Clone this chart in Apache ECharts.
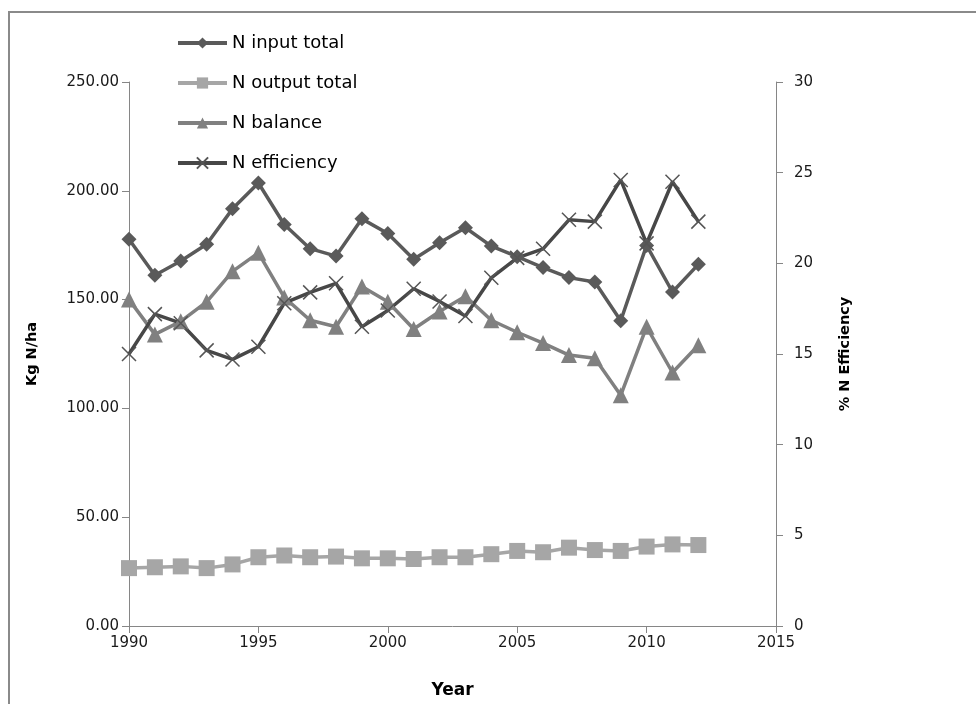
<!DOCTYPE html>
<html>
<head>
<meta charset="utf-8">
<script src="https://cdn.jsdelivr.net/npm/echarts@6/dist/echarts.min.js"></script>
<style>
html,body{margin:0;padding:0;background:#fff;}
#main{width:976px;height:704px;}
</style>
</head>
<body>
<div id="main"></div>
<script>
var years = [1990,1991,1992,1993,1994,1995,1996,1997,1998,1999,2000,2001,2002,2003,2004,2005,2006,2007,2008,2009,2010,2011,2012];
var nInputTotal = [177.7,161.2,167.7,175.4,191.7,203.6,184.5,173.4,170.0,187.1,180.4,168.5,176.1,183.0,174.6,169.7,164.7,160.1,158.1,140.3,174.9,153.5,166.2];
var nOutputTotal = [26.6,27.0,27.4,26.6,28.3,31.6,32.4,31.6,31.9,31.1,31.1,30.8,31.6,31.6,33.0,34.5,33.9,36.0,34.9,34.5,36.5,37.5,37.2];
var nBalance = [150.0,134.0,140.0,149.0,163.0,171.5,151.0,140.5,137.5,156.0,149.0,136.5,144.5,151.5,140.5,135.0,130.0,124.5,123.0,106.0,137.5,116.5,129.0];
var nEfficiency = [15.0,17.2,16.7,15.2,14.7,15.4,17.8,18.4,18.9,16.5,17.4,18.6,17.9,17.1,19.2,20.3,20.8,22.4,22.3,24.6,21.1,24.5,22.3];
var seriesNames = ['N input total','N output total','N balance','N efficiency'];
var leftTicks = {min:0, max:250, interval:50};
var rightTicks = {min:0, max:30, interval:5};
var xTicks = {min:1990, max:2015, interval:5};

function pairs(vals){ return years.map(function(y,i){ return [y, vals[i]]; }); }

var FONT = 'DejaVu Sans';
var xMark = 'path://M0,0L10,10M10,0L0,10';

var chart = echarts.init(document.getElementById('main'), null, {renderer:'canvas'});
chart.setOption({
  backgroundColor:'#ffffff',
  animation:false,
  graphic:[{
    type:'rect', shape:{x:9, y:12, width:1000, height:1000},
    style:{fill:'none', stroke:'#8a8a8a', lineWidth:2}, silent:true
  }],
  legend:{
    orient:'vertical', left:171, top:28, itemWidth:49, itemHeight:14, itemGap:20,
    textStyle:{fontFamily:FONT, fontSize:18, lineHeight:20, color:'#000'},
    lineStyle:{width:4},
    data:seriesNames
  },
  grid:{left:129, right:200, top:82, bottom:76},
  xAxis:{
    type:'value', min:xTicks.min, max:xTicks.max, interval:xTicks.interval,
    name:'Year', nameLocation:'middle', nameGap:56,
    nameTextStyle:{fontFamily:FONT, fontSize:17, fontWeight:'bold', color:'#000'},
    axisLine:{lineStyle:{color:'#868686', width:1}},
    axisTick:{show:true, inside:false, length:7, lineStyle:{color:'#868686'}},
    axisLabel:{fontFamily:FONT, fontSize:15, color:'#1a1a1a', margin:10, formatter:function(v){return String(v);}},
    splitLine:{show:false}
  },
  yAxis:[{
    type:'value', position:'left', min:leftTicks.min, max:leftTicks.max, interval:leftTicks.interval,
    name:'Kg N/ha', nameLocation:'middle', nameGap:89, nameRotate:90,
    nameTextStyle:{fontFamily:FONT, fontSize:14.5, fontWeight:'bold', color:'#000'},
    axisLine:{show:true, lineStyle:{color:'#868686', width:1}},
    axisTick:{show:true, length:7, lineStyle:{color:'#868686'}},
    axisLabel:{fontFamily:FONT, fontSize:15, color:'#1a1a1a', margin:10, formatter:function(v){return v.toFixed(2);}},
    splitLine:{show:false}
  },{
    type:'value', position:'right', min:rightTicks.min, max:rightTicks.max, interval:rightTicks.interval,
    name:'% N Efficiency', nameLocation:'middle', nameGap:62, nameRotate:90,
    nameTextStyle:{fontFamily:FONT, fontSize:14.5, fontWeight:'bold', color:'#000'},
    axisLine:{show:true, lineStyle:{color:'#868686', width:1}},
    axisTick:{show:true, length:7, lineStyle:{color:'#868686'}},
    axisLabel:{fontFamily:FONT, fontSize:15, color:'#1a1a1a', margin:18},
    splitLine:{show:false}
  }],
  series:[{
    name:seriesNames[0], type:'line', yAxisIndex:0, data:pairs(nInputTotal),
    symbol:'diamond', symbolSize:15,
    lineStyle:{color:'#5a5a5a', width:3.5},
    itemStyle:{color:'#5a5a5a'}
  },{
    name:seriesNames[1], type:'line', yAxisIndex:0, data:pairs(nOutputTotal),
    symbol:'rect', symbolSize:16,
    lineStyle:{color:'#a6a6a6', width:3.5},
    itemStyle:{color:'#a6a6a6'}
  },{
    name:seriesNames[2], type:'line', yAxisIndex:0, data:pairs(nBalance),
    symbol:'triangle', symbolSize:16,
    lineStyle:{color:'#808080', width:3.5},
    itemStyle:{color:'#808080'}
  },{
    name:seriesNames[3], type:'line', yAxisIndex:1, data:pairs(nEfficiency),
    symbol:xMark, symbolSize:14,
    lineStyle:{color:'#474747', width:3.5},
    itemStyle:{color:'rgba(0,0,0,0)', borderColor:'#555555', borderWidth:1.5}
  }]
});
</script>
</body>
</html>
